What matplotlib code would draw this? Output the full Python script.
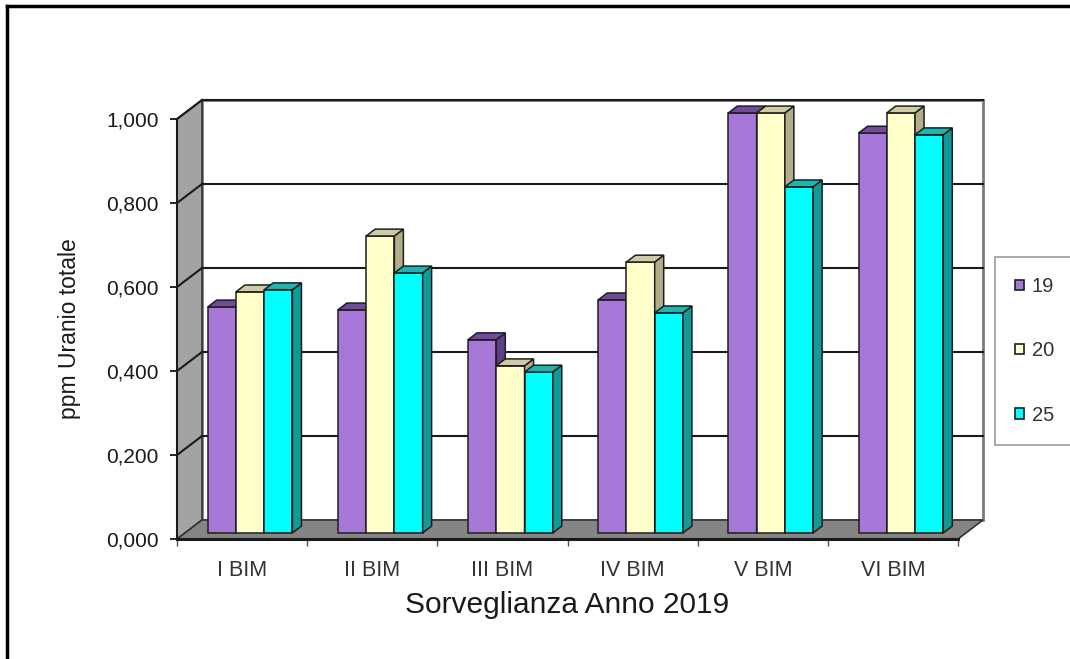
import numpy as np
import matplotlib
matplotlib.use("Agg")
import matplotlib.pyplot as plt
from matplotlib.patches import Polygon, Rectangle
from matplotlib.lines import Line2D
from matplotlib.ticker import FuncFormatter

plt.rcParams["font.family"] = ["Liberation Sans", "DejaVu Sans"]

# --- data -------------------------------------------------------------
periods = ["I BIM", "II BIM", "III BIM", "IV BIM", "V BIM", "VI BIM"]
series_names = ["19", "20", "25"]
uranio_19 = [0.538, 0.531, 0.460, 0.555, 1.000, 0.952]
uranio_20 = [0.574, 0.707, 0.398, 0.645, 1.000, 1.000]
uranio_25 = [0.579, 0.619, 0.383, 0.524, 0.824, 0.948]
y_ticks = [0.0, 0.2, 0.4, 0.6, 0.8, 1.0]

# front / top / side shades for each series
face_cols = ["#A878D8", "#FFFFCC", "#00FFFF"]
top_cols = ["#6E4C99", "#CFCBA8", "#22B4AC"]
side_cols = ["#5E3F88", "#B3AE8A", "#0F9C98"]
edge = "#1E1E1E"

# --- figure -----------------------------------------------------------
W, H = 1070, 659
fig = plt.figure(figsize=(W / 100, H / 100), dpi=100)
ax = fig.add_axes([177 / W, (H - 539) / H, 781 / W, 420 / H])

n = len(periods)
ax.set_xlim(0, n)
ax.set_ylim(0, 1)

# pseudo-3D depth of the box, in data units
dx = 25 / 781 * n
dy = 19 / 420
bar_depth0 = 0.32      # where the bar front sits inside the box
bar_depth = 0.36       # how deep each bar is
bar_w = 0.217

# walls and floor
back = Polygon([(dx, dy), (n + dx, dy), (n + dx, 1 + dy), (dx, 1 + dy)],
               closed=True, facecolor="white", edgecolor="#7A7A7A",
               linewidth=2, clip_on=False, zorder=0)
ax.add_patch(back)
side_wall = Polygon([(0, 0), (dx, dy), (dx, 1 + dy), (0, 1)], closed=True,
                    facecolor="#A3A3A3", edgecolor="#333333", linewidth=1.2,
                    clip_on=False, zorder=1)
ax.add_patch(side_wall)
floor = Polygon([(0, 0), (n, 0), (n + dx, dy), (dx, dy)], closed=True,
                facecolor="#858585", edgecolor="#333333", linewidth=1.2,
                clip_on=False, zorder=1)
ax.add_patch(floor)

for g in y_ticks[1:]:
    ax.plot([dx, n + dx], [g + dy, g + dy], color="#1A1A1A", lw=1.5,
            clip_on=False, zorder=2)
    ax.plot([0, dx], [g, g + dy], color="#1A1A1A", lw=1.5,
            clip_on=False, zorder=2)

# bars: front faces through ax.bar, top and side faces from each rectangle
ox, oy = bar_depth0 * dx, bar_depth0 * dy
ddx, ddy = bar_depth * dx, bar_depth * dy
x = np.arange(n) + 0.5
all_series = [uranio_19, uranio_20, uranio_25]
handles = []
for k, vals in enumerate(all_series):
    xs = x + (k - 1) * bar_w + ox
    bars = ax.bar(xs, vals, width=bar_w, bottom=oy, color=face_cols[k],
                  edgecolor=edge, linewidth=1.1, clip_on=False)
    handles.append(Rectangle((0, 0), 1, 1, facecolor=face_cols[k],
                             edgecolor=edge, linewidth=1.2))
    for i, r in enumerate(bars):
        z = 3 + i * 3 + k
        r.set_zorder(z)
        x0, x1 = r.get_x(), r.get_x() + r.get_width()
        y0, y1 = r.get_y(), r.get_y() + r.get_height()
        top = Polygon([(x0, y1), (x1, y1), (x1 + ddx, y1 + ddy),
                       (x0 + ddx, y1 + ddy)], closed=True,
                      facecolor=top_cols[k], edgecolor=edge, linewidth=1.1,
                      clip_on=False, zorder=z)
        side = Polygon([(x1, y0), (x1 + ddx, y0 + ddy), (x1 + ddx, y1 + ddy),
                        (x1, y1)], closed=True, facecolor=side_cols[k],
                       edgecolor=edge, linewidth=1.1, clip_on=False, zorder=z)
        ax.add_patch(side)
        ax.add_patch(top)

# axes
for s in ["top", "right"]:
    ax.spines[s].set_visible(False)
ax.spines["left"].set_color("#1A1A1A")
ax.spines["left"].set_linewidth(1.5)
ax.spines["bottom"].set_color("#1A1A1A")
ax.spines["bottom"].set_linewidth(2.2)
ax.spines["left"].set_zorder(30)
ax.spines["bottom"].set_zorder(30)
ax.patch.set_visible(False)

ax.set_yticks(y_ticks)
ax.yaxis.set_major_formatter(FuncFormatter(lambda v, p: f"{v:.3f}".replace(".", ",")))
ax.tick_params(axis="y", length=5, width=1.2, pad=8, labelsize=15,
               labelcolor="#1A1A1A")
ax.set_xticks(x)
ax.set_xticklabels(periods)
ax.set_xticks(np.arange(n + 1), minor=True)
ax.tick_params(axis="x", which="major", length=0, pad=15, labelsize=15.5,
               labelcolor="#333333")
ax.tick_params(axis="x", which="minor", length=5, width=1, color="#555555")

ax.set_ylabel("ppm Uranio totale", fontsize=16.5, color="#1A1A1A")
ax.yaxis.set_label_coords(-96 / 781, 0.5)
ax.set_xlabel("Sorveglianza Anno 2019", fontsize=21.5, color="#1A1A1A")
ax.xaxis.set_label_coords(0.5, -52 / 420)

leg = fig.legend(handles, series_names, loc="upper left",
                 bbox_to_anchor=(995 / W, 1 - 257 / H), frameon=True,
                 fancybox=False, fontsize=14.5, handlelength=0.42,
                 handleheight=0.42, handletextpad=0.4, labelspacing=2.25,
                 borderpad=1.0, borderaxespad=0)
leg.get_frame().set_edgecolor("#808080")
leg.get_frame().set_linewidth(1.2)
for t in leg.get_texts():
    t.set_color("#333333")

# outer frame (top and left edges)
fig.add_artist(Line2D([7 / W, 7 / W], [0, 1 - 6 / H], color="black", lw=2.5,
                      transform=fig.transFigure))
fig.add_artist(Line2D([7 / W, 1], [1 - 6 / H, 1 - 6 / H], color="black", lw=2.5,
                      transform=fig.transFigure))

fig.savefig("out.png", dpi=100)
